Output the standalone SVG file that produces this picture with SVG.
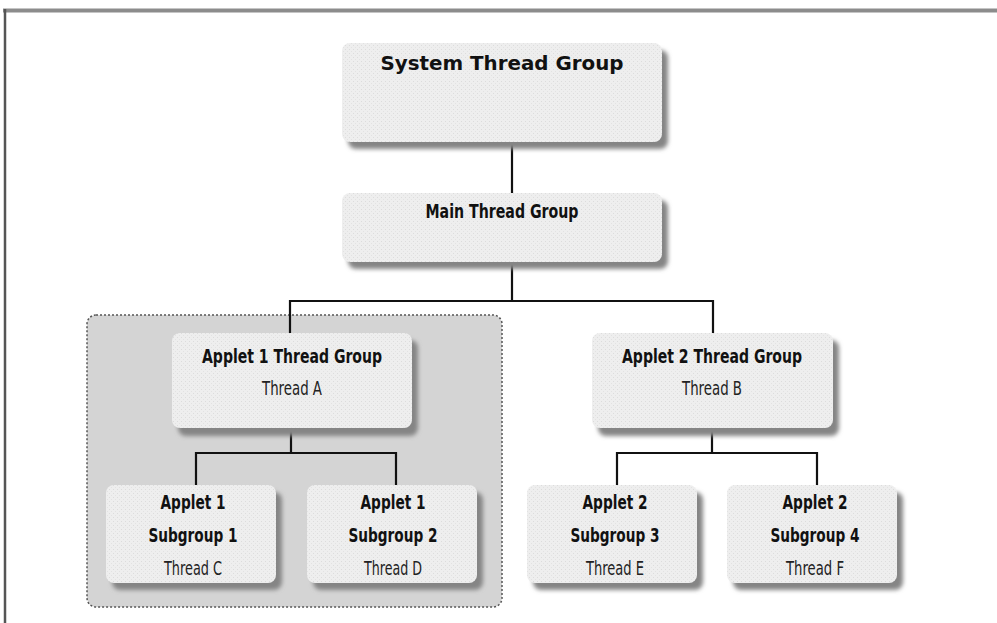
<svg xmlns="http://www.w3.org/2000/svg" width="997" height="623" viewBox="0 0 997 623">
<defs>
<filter id="sh" x="-10%" y="-10%" width="130%" height="140%">
<feGaussianBlur stdDeviation="2"/>
</filter>
<pattern id="stip" width="4" height="4" patternUnits="userSpaceOnUse">
<rect width="4" height="4" fill="#eeeeee"/>
<rect x="1" y="1" width="1" height="1" fill="#dcdcdc"/>
<rect x="3" y="3" width="1" height="1" fill="#e2e2e2"/>
</pattern>
</defs>
<style>
.box{fill:url(#stip);}
.shadow{fill:#858585;filter:url(#sh);}
.t{font-family:"DejaVu Sans Condensed","DejaVu Sans",sans-serif;font-weight:bold;fill:#111;text-anchor:middle;font-size:20px;}
.s{font-family:"DejaVu Sans Condensed","DejaVu Sans",sans-serif;fill:#222;text-anchor:middle;font-size:19px;}
.c{stroke:#111;stroke-width:2.2;fill:none;}
</style>
<rect width="997" height="623" fill="#ffffff"/>
<line x1="3" y1="10.5" x2="997" y2="10.5" stroke="#8c8c8c" stroke-width="4"/>
<line x1="5" y1="9" x2="5" y2="623" stroke="#555" stroke-width="2.5"/>

<rect id="applet1-region" x="87" y="315" width="415" height="292" rx="9" fill="#d4d4d4" stroke="#555" stroke-width="1.5" stroke-dasharray="2,2"/>

<g id="connectors">
<path class="c" d="M512 142 V193"/>
<path class="c" d="M512 262 V301 M290 301 H713 M290 300 V333 M713 300 V333"/>
<path class="c" d="M291 428 V453 M196 453 H396 M196 452 V485 M396 452 V485"/>
<path class="c" d="M712 428 V453 M617 453 H817 M617 452 V485 M817 452 V485"/>
</g>

<g id="system">
<rect class="shadow" x="348" y="50" width="320" height="99" rx="8"/>
<rect class="box" x="342" y="43" width="320" height="99" rx="8"/>
<text class="t" x="502" y="70" font-size="22" textLength="243" lengthAdjust="spacingAndGlyphs">System Thread Group</text>
</g>

<g id="main">
<rect class="shadow" x="348" y="200" width="320" height="69" rx="8"/>
<rect class="box" x="342" y="193" width="320" height="69" rx="8"/>
<text class="t" x="502" y="218" textLength="153" lengthAdjust="spacingAndGlyphs">Main Thread Group</text>
</g>

<g id="applet1">
<rect class="shadow" x="178" y="340" width="240" height="96" rx="8"/>
<rect class="box" x="172" y="333" width="240" height="95" rx="8"/>
<text class="t" x="292" y="363" font-size="21" textLength="180" lengthAdjust="spacingAndGlyphs">Applet 1 Thread Group</text>
<text class="s" x="292" y="395" textLength="60" lengthAdjust="spacingAndGlyphs">Thread A</text>
</g>

<g id="applet2">
<rect class="shadow" x="598" y="340" width="241" height="96" rx="8"/>
<rect class="box" x="592" y="333" width="241" height="95" rx="8"/>
<text class="t" x="712" y="363" font-size="21" textLength="180" lengthAdjust="spacingAndGlyphs">Applet 2 Thread Group</text>
<text class="s" x="712" y="395" textLength="60" lengthAdjust="spacingAndGlyphs">Thread B</text>
</g>

<g id="sub1">
<rect class="shadow" x="112" y="492" width="170" height="98" rx="8"/>
<rect class="box" x="106" y="485" width="170" height="98" rx="8"/>
<text class="t" x="193" y="509" font-size="21" textLength="65" lengthAdjust="spacingAndGlyphs">Applet 1</text>
<text class="t" x="193" y="542" font-size="21" textLength="89" lengthAdjust="spacingAndGlyphs">Subgroup 1</text>
<text class="s" x="193" y="575" textLength="58" lengthAdjust="spacingAndGlyphs">Thread C</text>
</g>

<g id="sub2">
<rect class="shadow" x="313" y="492" width="170" height="98" rx="8"/>
<rect class="box" x="307" y="485" width="170" height="98" rx="8"/>
<text class="t" x="393" y="509" font-size="21" textLength="65" lengthAdjust="spacingAndGlyphs">Applet 1</text>
<text class="t" x="393" y="542" font-size="21" textLength="89" lengthAdjust="spacingAndGlyphs">Subgroup 2</text>
<text class="s" x="393" y="575" textLength="58" lengthAdjust="spacingAndGlyphs">Thread D</text>
</g>

<g id="sub3">
<rect class="shadow" x="533" y="492" width="170" height="98" rx="8"/>
<rect class="box" x="527" y="485" width="170" height="98" rx="8"/>
<text class="t" x="615" y="509" font-size="21" textLength="65" lengthAdjust="spacingAndGlyphs">Applet 2</text>
<text class="t" x="615" y="542" font-size="21" textLength="89" lengthAdjust="spacingAndGlyphs">Subgroup 3</text>
<text class="s" x="615" y="575" textLength="58" lengthAdjust="spacingAndGlyphs">Thread E</text>
</g>

<g id="sub4">
<rect class="shadow" x="733" y="492" width="170" height="98" rx="8"/>
<rect class="box" x="727" y="485" width="170" height="98" rx="8"/>
<text class="t" x="815" y="509" font-size="21" textLength="65" lengthAdjust="spacingAndGlyphs">Applet 2</text>
<text class="t" x="815" y="542" font-size="21" textLength="89" lengthAdjust="spacingAndGlyphs">Subgroup 4</text>
<text class="s" x="815" y="575" textLength="58" lengthAdjust="spacingAndGlyphs">Thread F</text>
</g>
</svg>
